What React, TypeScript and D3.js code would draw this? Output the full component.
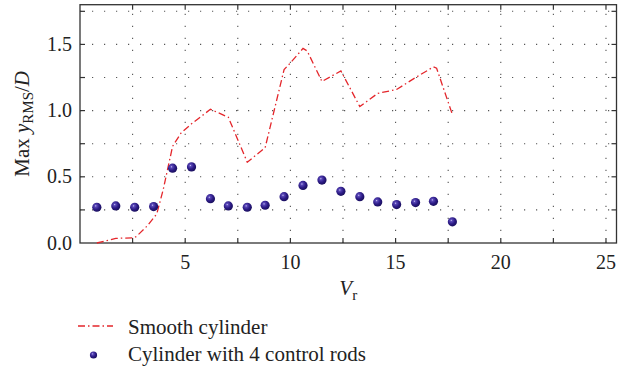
import React from "react";
import * as d3 from "d3";

const smoothX = [0.8, 1.7, 2.6, 2.75, 3.2, 3.65, 3.95, 4.4, 4.8, 5.3, 6.2, 7.05, 7.95, 8.8, 9.7, 10.0, 10.6, 10.8, 11.5, 12.4, 13.3, 14.15, 15.05, 15.95, 16.8, 16.95, 17.7];
const smoothY = [0.0, 0.035, 0.04, 0.06, 0.13, 0.22, 0.4, 0.73, 0.83, 0.9, 1.01, 0.95, 0.61, 0.72, 1.31, 1.36, 1.47, 1.45, 1.22, 1.3, 1.03, 1.13, 1.16, 1.25, 1.33, 1.32, 0.97];

const rodsX = [0.8, 1.7, 2.6, 3.5, 4.4, 5.3, 6.2, 7.05, 7.95, 8.8, 9.7, 10.6, 11.5, 12.4, 13.3, 14.15, 15.05, 15.95, 16.8, 17.7];
const rodsY = [0.27, 0.28, 0.27, 0.275, 0.565, 0.575, 0.335, 0.28, 0.27, 0.285, 0.35, 0.435, 0.475, 0.39, 0.35, 0.31, 0.29, 0.305, 0.315, 0.16];

const xTickLabels = [5, 10, 15, 20, 25];
const yTickLabels = [0.0, 0.5, 1.0, 1.5];
const legendLabels = ["Smooth cylinder", "Cylinder with 4 control rods"];

const W = 619;
const H = 372;
const FONT = "Liberation Serif, DejaVu Serif, serif";
const RED = "#e4262b";
const DOT = "#2c1b86";
const txt: React.CSSProperties = { fontFamily: FONT };

export default function App() {
  const x = d3.scaleLinear().domain([0, 25.5]).range([80, 616.5]);
  const y = d3.scaleLinear().domain([0, 1.8]).range([243, 4.7]);
  const [x0, x1] = x.range();
  const [y0, y1] = y.range();

  const xGrid = d3.range(2.5, 25.01, 2.5);
  const yGrid = d3.range(0.25, 1.76, 0.25);

  const line = d3
    .line<number>()
    .x((_, i) => x(smoothX[i]))
    .y((d) => y(d))
    .curve(d3.curveLinear);

  return (
    <svg width={W} height={H} style={{ position: "absolute", left: 0, top: 0, fontFamily: FONT }}>
      <defs>
        <radialGradient id="ball" cx="0.38" cy="0.35" r="0.65">
          <stop offset="0" stopColor="#c9c3f0" />
          <stop offset="0.18" stopColor="#5a48b8" />
          <stop offset="0.6" stopColor={DOT} />
          <stop offset="1" stopColor="#1a0f5e" />
        </radialGradient>
      </defs>
      <rect width={W} height={H} fill="white" />
      {xGrid.map((v) => (
        <line key={"gx" + v} x1={x(v)} x2={x(v)} y1={y0} y2={y1} stroke="#555" strokeWidth={1.1} strokeDasharray="1.2 10.8" />
      ))}
      {yGrid.map((v) => (
        <line key={"gy" + v} x1={x0} x2={x1} y1={y(v)} y2={y(v)} stroke="#555" strokeWidth={1.1} strokeDasharray="1.2 10.8" />
      ))}
      {xGrid.map((v) => (
        <g key={"tx" + v}>
          <line x1={x(v)} x2={x(v)} y1={y0} y2={y0 - 5} stroke="#333" strokeWidth={1.2} />
          <line x1={x(v)} x2={x(v)} y1={y1} y2={y1 + 5} stroke="#333" strokeWidth={1.2} />
        </g>
      ))}
      {yGrid.map((v) => (
        <g key={"ty" + v}>
          <line x1={x0} x2={x0 + 5} y1={y(v)} y2={y(v)} stroke="#333" strokeWidth={1.2} />
          <line x1={x1} x2={x1 - 5} y1={y(v)} y2={y(v)} stroke="#333" strokeWidth={1.2} />
        </g>
      ))}
      <rect x={x0} y={y1} width={x1 - x0} height={y0 - y1} fill="none" stroke="#333" strokeWidth={1.3} />
      {xTickLabels.map((v) => (
        <text key={"lx" + v} style={txt} x={x(v)} y={y0 + 26} textAnchor="middle" fontSize={20} fill="#222">
          {v}
        </text>
      ))}
      {yTickLabels.map((v) => (
        <text key={"ly" + v} style={txt} x={x0 - 8} y={y(v) + 6.5} textAnchor="end" fontSize={20} fill="#222">
          {v.toFixed(1)}
        </text>
      ))}
      <text style={txt} x={(x0 + x1) / 2} y={295} textAnchor="middle" fontSize={21} fill="#222">
        <tspan fontStyle="italic">V</tspan>
        <tspan fontSize={15} dy={5}>r</tspan>
      </text>
      <text
        style={txt}
        transform={`translate(29, ${(y0 + y1) / 2}) rotate(-90)`}
        textAnchor="middle"
        fontSize={21}
        fill="#222"
      >
        <tspan>Max </tspan>
        <tspan fontStyle="italic">y</tspan>
        <tspan fontSize={15} dy={4}>RMS</tspan>
        <tspan dy={-4}>/</tspan>
        <tspan fontStyle="italic">D</tspan>
      </text>
      <path d={line(smoothY) || ""} fill="none" stroke={RED} strokeWidth={1.3} strokeDasharray="7 3 1.5 3" />
      {rodsY.map((v, i) => (
        <circle key={"d" + i} cx={x(rodsX[i])} cy={y(v)} r={4.6} fill="url(#ball)" />
      ))}
      <line x1={78} x2={113} y1={326} y2={326} stroke={RED} strokeWidth={1.3} strokeDasharray="7 3 1.5 3" />
      <text style={txt} x={128} y={334} fontSize={21} fill="#222">
        {legendLabels[0]}
      </text>
      <circle cx={93.5} cy={355} r={3.6} fill="url(#ball)" />
      <text style={txt} x={128} y={361} fontSize={21} fill="#222">
        {legendLabels[1]}
      </text>
    </svg>
  );
}
